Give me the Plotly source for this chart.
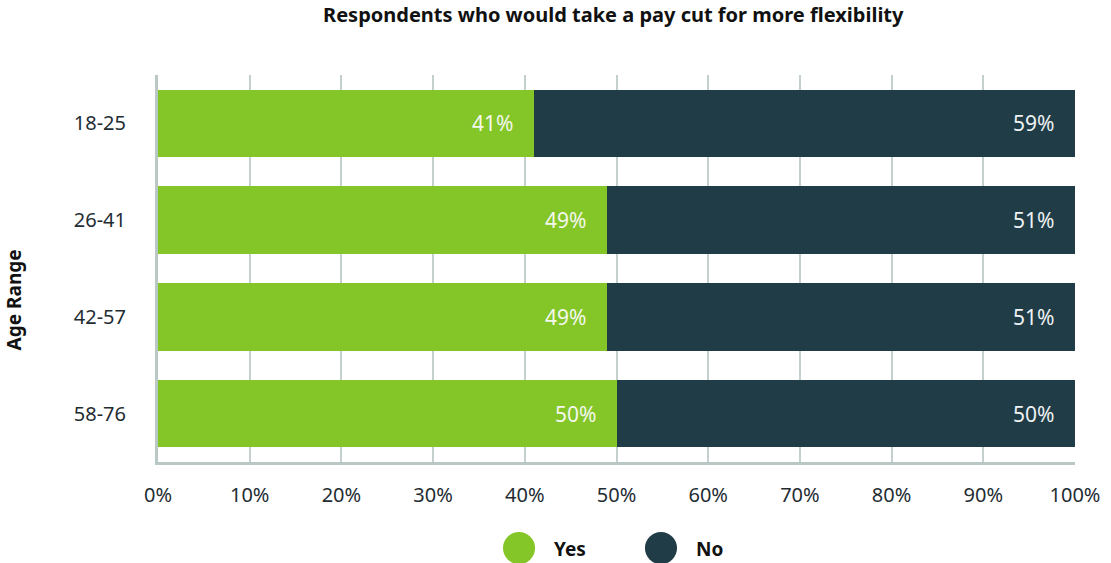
import plotly.graph_objects as go

# Survey results: share of respondents per age group
age_ranges = ["18-25", "26-41", "42-57", "58-76"]
yes_pct = [41, 49, 49, 50]
no_pct = [59, 51, 51, 50]
x_ticks = [0, 10, 20, 30, 40, 50, 60, 70, 80, 90, 100]

GREEN = "#84c628"
DARK = "#203c47"
TEXT = "#1f2d33"
GRID = "#c4d0ce"
FONT = "Noto Sans"

fig = go.Figure()
fig.add_trace(go.Bar(y=age_ranges, x=yes_pct, orientation="h", name="Yes",
                     marker=dict(color=GREEN, line=dict(width=0)), showlegend=False,
                     hoverinfo="x+name"))
fig.add_trace(go.Bar(y=age_ranges, x=no_pct, orientation="h", name="No",
                     marker=dict(color=DARK, line=dict(width=0)), showlegend=False,
                     hoverinfo="x+name"))

# value labels placed just inside the right end of each segment
annotations = []
for cat, y_v, n_v in zip(age_ranges, yes_pct, no_pct):
    annotations.append(dict(x=y_v, y=cat, xref="x", yref="y", text=f"{y_v}%",
                            showarrow=False, xanchor="right", xshift=-19,
                            font=dict(family=FONT, size=21, color="#f4f7ee")))
    annotations.append(dict(x=y_v + n_v, y=cat, xref="x", yref="y", text=f"{n_v}%",
                            showarrow=False, xanchor="right", xshift=-19,
                            font=dict(family=FONT, size=21, color="#eef2f3")))

# y axis title
annotations.append(dict(x=-0.156, y=0.42, xref="paper", yref="paper", text="<b>Age Range</b>",
                        textangle=-90, showarrow=False, xanchor="center", yanchor="middle",
                        font=dict(family=FONT, size=19, color="#111111")))

# custom legend with large round swatches
legend_items = [("Yes", GREEN), ("No", DARK)]
legend_x = [0.3937, 0.5485]
shapes = []
for (label, color), lx in zip(legend_items, legend_x):
    shapes.append(dict(type="circle", xref="paper", yref="paper",
                       x0=lx - 0.0175, x1=lx + 0.0175, y0=-0.264, y1=-0.181,
                       fillcolor=color, line=dict(width=0)))
    annotations.append(dict(x=lx + 0.036, y=-0.224, xref="paper", yref="paper",
                            text=f"<b>{label}</b>", showarrow=False,
                            xanchor="left", yanchor="middle",
                            font=dict(family=FONT, size=19, color="#111111")))

fig.update_layout(
    barmode="stack",
    bargap=0.30,
    width=1111, height=563,
    margin=dict(l=158, r=36, t=75, b=101),
    paper_bgcolor="white", plot_bgcolor="white",
    font=dict(family=FONT, size=20, color=TEXT),
    title=dict(text="<b>Respondents who would take a pay cut for more flexibility</b>",
               x=0.552, xanchor="center", y=0.974, yanchor="middle",
               font=dict(family=FONT, size=20, color="#111111")),
    xaxis=dict(range=[0, 100], tickvals=x_ticks, ticktext=[f"{t}%" for t in x_ticks],
               showgrid=True, gridcolor=GRID, gridwidth=1.5,
               showline=True, linecolor="#b9c8c5", linewidth=2.5,
               zeroline=False, ticks="", ticklabelstandoff=13,
               tickfont=dict(family=FONT, size=20, color=TEXT)),
    yaxis=dict(categoryorder="array", categoryarray=age_ranges, autorange="reversed",
               showgrid=False, showline=True, linecolor="#b9c8c5", linewidth=3,
               ticks="", ticklabelstandoff=25,
               tickfont=dict(family=FONT, size=20, color=TEXT)),
    annotations=annotations,
    shapes=shapes,
)

fig.write_html("out.html")
